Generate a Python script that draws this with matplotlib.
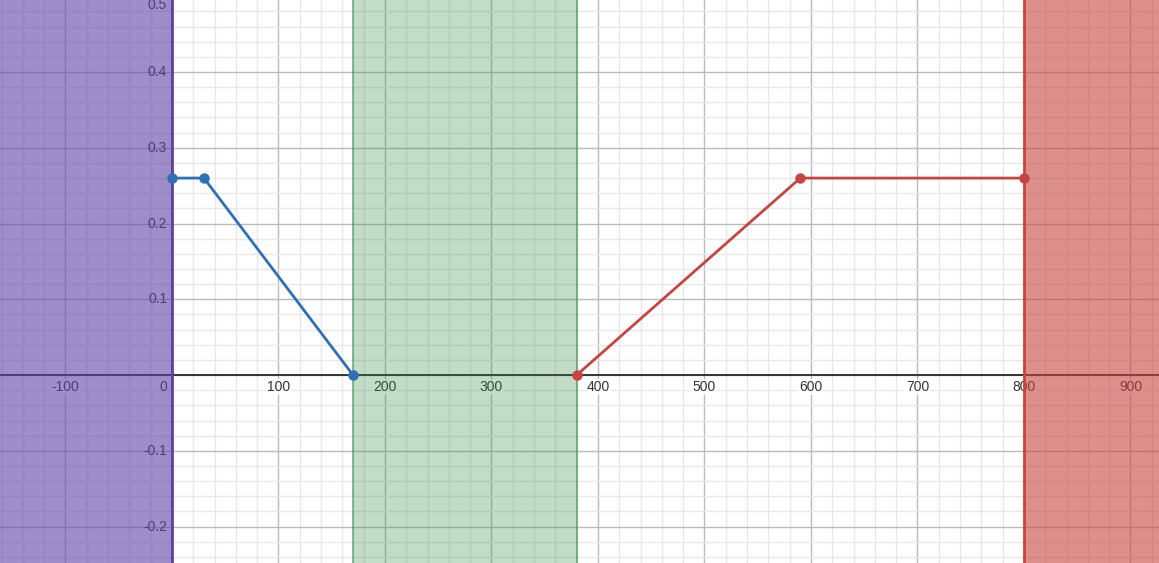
import numpy as np
import matplotlib.pyplot as plt

plt.rcParams['font.family'] = ['Liberation Sans', 'DejaVu Sans']

# data
blue_x = [0, 30, 170]
blue_y = [0.26, 0.26, 0]
red_x = [380, 590, 800]
red_y = [0, 0.26, 0.26]
purple_edge = 0
green_span = (170, 380)
red_edge = 800
x_ticks = [-100, 0, 100, 200, 300, 400, 500, 600, 700, 800, 900]
y_ticks = [-0.2, -0.1, 0.1, 0.2, 0.3, 0.4, 0.5]

xmin, xmax = -161.5, 926.8
ymin, ymax = -0.248, 0.495

fig = plt.figure(figsize=(11.59, 5.63), dpi=100)
ax = fig.add_axes([0, 0, 1, 1])
ax.set_xlim(xmin, xmax)
ax.set_ylim(ymin, ymax)
ax.axis('off')

# grid
for x in np.arange(-160, 940, 20):
    major = x % 100 == 0
    ax.axvline(x, color='#bbbbbb' if major else '#e8e8e8', lw=1.0, zorder=0)
for y in np.arange(-0.24, 0.5, 0.02):
    major = abs(round(y * 10) - y * 10) < 1e-6
    ax.axhline(y, color='#bbbbbb' if major else '#e8e8e8', lw=1.0, zorder=0)

ax.axhline(0, color='#333333', lw=1.4, zorder=1)
ax.axvline(0, color='#333333', lw=1.4, zorder=1)

# tick labels
for x in x_ticks:
    if x == 0:
        ax.text(-4, -0.0065, '0', ha='right', va='top', fontsize=10, color='#333333', zorder=1.5)
    else:
        ax.text(x, -0.0065, str(x), ha='center', va='top', fontsize=10, color='#333333', zorder=1.5,
                bbox=dict(boxstyle='square,pad=0.1', fc='white', ec='none', alpha=0.85))
for y in y_ticks:
    if y > ymax:
        # clamp the top label into view, as in the reference
        ax.text(-4.5, ymax + 0.002, '%g' % y, ha='right', va='top', fontsize=10, color='#333333', zorder=1.5)
    else:
        ax.text(-4.5, y, '%g' % y, ha='right', va='center', fontsize=10, color='#333333', zorder=1.5)

# shaded regions
ax.axvspan(xmin, purple_edge, color='#6042a6', alpha=0.6, lw=0, zorder=2)
ax.axvline(purple_edge, color='#6042a6', lw=2, zorder=3)
ax.axvspan(green_span[0], green_span[1], color='#388c46', alpha=0.3, lw=0, zorder=2)
ax.axvline(green_span[0], color='#388c46', lw=1.2, alpha=0.7, zorder=3)
ax.axvline(green_span[1], color='#388c46', lw=1.2, alpha=0.7, zorder=3)
ax.axvspan(red_edge, xmax, color='#c74440', alpha=0.6, lw=0, zorder=2)
ax.axvline(red_edge, color='#c74440', lw=2, zorder=3)

# lines
ax.plot(blue_x, blue_y, color='#2d70b3', lw=2, marker='o', ms=6.5, zorder=4)
ax.plot(red_x, red_y, color='#c74440', lw=2, marker='o', ms=6.5, zorder=4)

fig.savefig('out.png', dpi=100)
